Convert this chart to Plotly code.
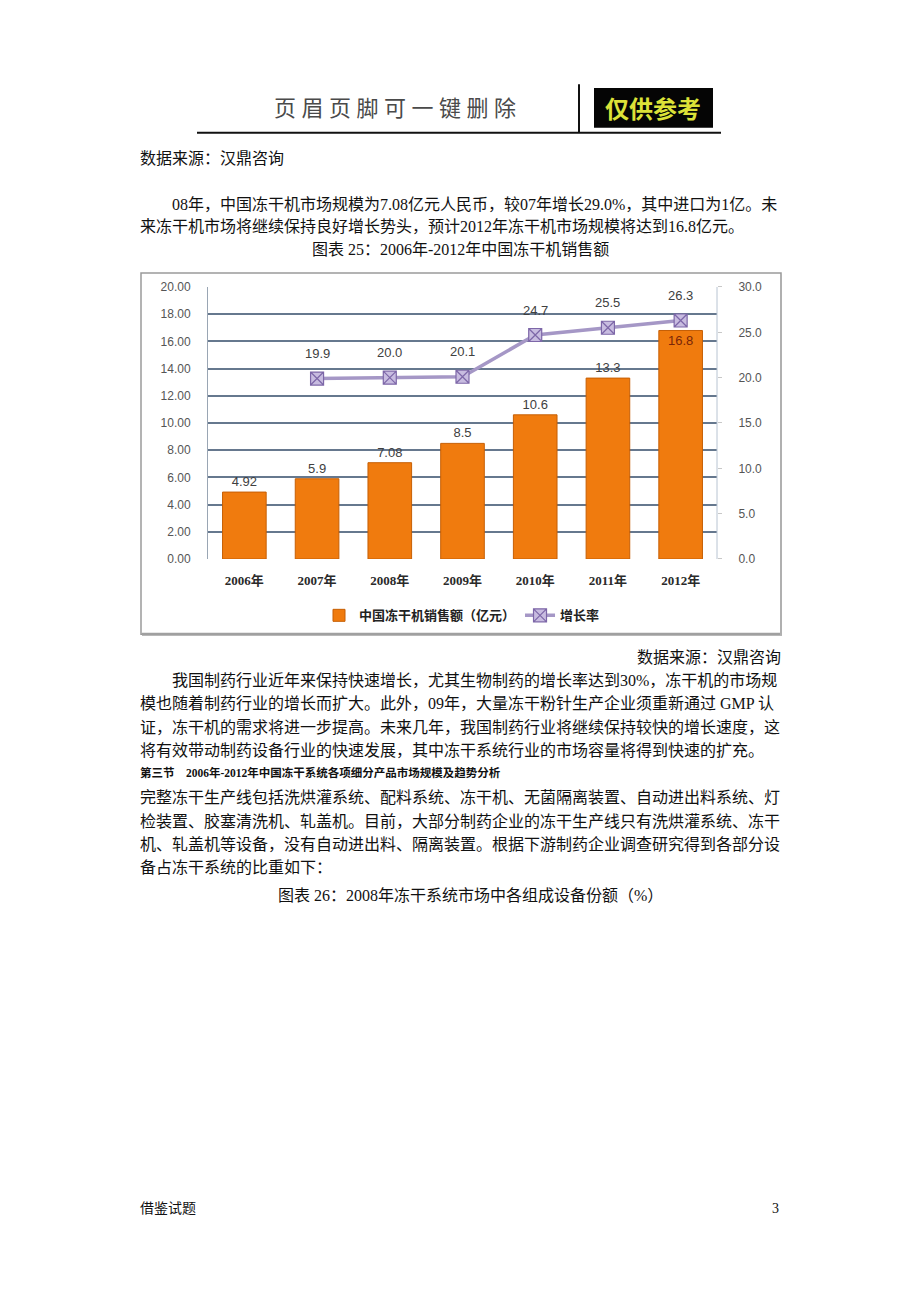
import plotly.graph_objects as go

years = ["2006年", "2007年", "2008年", "2009年", "2010年", "2011年", "2012年"]
sales = [4.92, 5.9, 7.08, 8.5, 10.6, 13.3, 16.8]
sales_labels = ["4.92", "5.9", "7.08", "8.5", "10.6", "13.3", "16.8"]
growth_years = ["2007年", "2008年", "2009年", "2010年", "2011年", "2012年"]
growth = [19.9, 20.0, 20.1, 24.7, 25.5, 26.3]
left_ticks = [0, 2, 4, 6, 8, 10, 12, 14, 16, 18, 20]
right_ticks = [0, 5, 10, 15, 20, 25, 30]

W, H = 920, 1302
def px(x): return x / W
def py(y): return 1 - y / H

SERIF = "Liberation Serif, Noto Sans CJK SC, serif"
SANS = "Liberation Sans, Noto Sans CJK SC, sans-serif"

fig = go.Figure()

fig.add_trace(go.Bar(
    x=years, y=sales, name="中国冻干机销售额（亿元）",
    marker=dict(color="#f07b0e", line=dict(color="#c65f05", width=1)),
    width=0.6,
    text=sales_labels,
    textposition=["outside"] * 6 + ["inside"],
    insidetextanchor="end",
    textfont=dict(family=SANS, size=13, color=["#404040"] * 6 + ["#7a2608"]),
    cliponaxis=False,
    hoverinfo="skip",
))

fig.add_trace(go.Scatter(
    x=growth_years, y=growth, name="增长率", yaxis="y2",
    mode="lines+markers",
    line=dict(color="#a597c6", width=3.5),
    marker=dict(symbol="square-x", size=13, color="#c8bce0",
                line=dict(color="#7d67a8", width=1.2)),
    cliponaxis=False,
    hoverinfo="skip",
))

annotations = []
for yr, g in zip(growth_years, growth):
    annotations.append(dict(x=yr, y=g, xref="x", yref="y2", text=f"{g:.1f}",
                            showarrow=False, yshift=25,
                            font=dict(family=SANS, size=13, color="#404040")))

# page texts
def txt(t, x, y, size=16, anchor="left", color="#111111", family=SERIF, bold=False):
    if bold:
        t = "<b>" + t + "</b>"
    annotations.append(dict(text=t, x=px(x), y=py(y), xref="paper", yref="paper",
                            xanchor=anchor, yanchor="middle", showarrow=False,
                            font=dict(family=family, size=size, color=color)))

txt("页 眉 页 脚 可 一 键 删 除", 395, 103, size=22, anchor="center", color="#4a4a4a")
txt("仅供参考", 653, 102, size=24, anchor="center", color="#dce238", bold=True,
    family="Noto Sans CJK SC, sans-serif")
txt("数据来源：汉鼎咨询", 138, 153)
txt("08年，中国冻干机市场规模为7.08亿元人民币，较07年增长29.0%，其中进口为1亿。未", 170, 200)
txt("来冻干机市场将继续保持良好增长势头，预计2012年冻干机市场规模将达到16.8亿元。", 138, 222)
txt("图表 25：2006年-2012年中国冻干机销售额", 460, 245, anchor="center")
txt("数据来源：汉鼎咨询", 783, 658, anchor="right")
txt("我国制药行业近年来保持快速增长，尤其生物制药的增长率达到30%，冻干机的市场规", 170, 681)
txt("模也随着制药行业的增长而扩大。此外，09年，大量冻干粉针生产企业须重新通过 GMP 认", 138, 704)
txt("证，冻干机的需求将进一步提高。未来几年，我国制药行业将继续保持较快的增长速度，这", 138, 728)
txt("将有效带动制药设备行业的快速发展，其中冻干系统行业的市场容量将得到快速的扩充。", 138, 752)
txt("第三节    2006年-2012年中国冻干系统各项细分产品市场规模及趋势分析", 138, 774, size=11.5, bold=True)
txt("完整冻干生产线包括洗烘灌系统、配料系统、冻干机、无菌隔离装置、自动进出料系统、灯", 138, 799)
txt("检装置、胶塞清洗机、轧盖机。目前，大部分制药企业的冻干生产线只有洗烘灌系统、冻干", 138, 823)
txt("机、轧盖机等设备，没有自动进出料、隔离装置。根据下游制药企业调查研究得到各部分设", 138, 847)
txt("备占冻干系统的比重如下：", 138, 870)
txt("图表 26：2008年冻干系统市场中各组成设备份额（%）", 470, 898, anchor="center")
txt("借鉴试题", 138, 1215, size=14)
txt("3", 781, 1215, size=14, anchor="right")

shapes = [
    # header
    dict(type="line", xref="paper", yref="paper", x0=px(197), x1=px(721), y0=py(127), y1=py(127),
         line=dict(color="#111111", width=2)),
    dict(type="line", xref="paper", yref="paper", x0=px(579), x1=px(579), y0=py(78), y1=py(127),
         line=dict(color="#111111", width=2)),
    dict(type="rect", xref="paper", yref="paper", x0=px(594), x1=px(713), y0=py(122), y1=py(82),
         fillcolor="#050505", line=dict(width=0), layer="below"),
    # chart frame
    dict(type="rect", xref="paper", yref="paper", x0=px(141), x1=px(781), y0=py(634), y1=py(269),
         fillcolor="#ffffff", line=dict(color="#9a9a9a", width=1.5), layer="below"),
    dict(type="line", xref="paper", yref="paper", x0=px(142), x1=px(782), y0=py(634), y1=py(634),
         line=dict(color="#a0a0a0", width=3)),
    dict(type="line", xref="paper", yref="paper", x0=px(781), x1=px(781), y0=py(270), y1=py(635),
         line=dict(color="#b0b0b0", width=2)),
    # plot right border
    dict(type="line", xref="paper", yref="paper", x0=px(717), x1=px(717), y0=py(283), y1=py(558),
         line=dict(color="#b8c4d2", width=1)),
]

fig.update_layout(
    width=W, height=H,
    margin=dict(l=0, r=0, t=0, b=0),
    paper_bgcolor="#ffffff",
    plot_bgcolor="#dbe6f2",
    bargap=0.4,
    showlegend=True,
    legend=dict(orientation="h", x=px(462), xanchor="center", y=py(615), yanchor="middle",
                font=dict(family="Noto Sans CJK SC, sans-serif", size=13, color="#222222",
                          weight="bold"),
                bgcolor="rgba(0,0,0,0)", itemwidth=30),
    xaxis=dict(domain=[px(208), px(717)], type="category", categoryorder="array",
               categoryarray=years, showgrid=False, showline=False, ticks="",
               tickfont=dict(family=SERIF, size=13, color="#2a2a2a", weight="bold"),
               ticklabelstandoff=12, anchor="y", fixedrange=True),
    yaxis=dict(domain=[py(558), py(283)], range=[0, 20], tickvals=left_ticks,
               tickformat=".2f", showgrid=True, gridcolor="#66788e", gridwidth=1.5,
               zeroline=False, showline=True, linecolor="#9aa6b4", linewidth=1,
               tickfont=dict(family=SANS, size=12, color="#555555"),
               ticklabelstandoff=14, ticks="", fixedrange=True),
    yaxis2=dict(overlaying="y", side="right", range=[0, 30], tickvals=right_ticks,
                tickformat=".1f", showgrid=False, zeroline=False, showline=False,
                ticks="outside", ticklen=4, tickcolor="#c8c8c8",
                tickfont=dict(family=SANS, size=12, color="#555555"),
                ticklabelstandoff=14, anchor="x", fixedrange=True),
    annotations=annotations,
    shapes=shapes,
)

fig.write_html("out.html")
